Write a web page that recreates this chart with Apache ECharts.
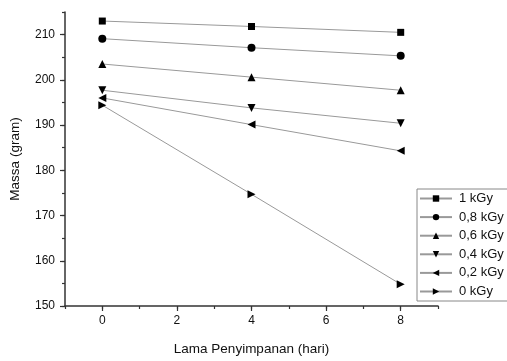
<!DOCTYPE html>
<html>
<head>
<meta charset="utf-8">
<script src="https://cdn.jsdelivr.net/npm/echarts@6/dist/echarts.min.js"></script>
<style>
html, body { margin: 0; padding: 0; background: #fff; overflow: hidden; }
#chart { width: 507px; height: 361px; }
</style>
</head>
<body>
<div id="chart"></div>
<script>
// lama penyimpanan (hari)
const days = [0, 4, 8];
const doses = ['1 kGy', '0,8 kGy', '0,6 kGy', '0,4 kGy', '0,2 kGy', '0 kGy'];
// massa (gram)
const mass1 = [213.0, 211.8, 210.5];
const mass08 = [209.1, 207.1, 205.3];
const mass06 = [203.5, 200.6, 197.7];
const mass04 = [197.7, 193.8, 190.4];
const mass02 = [196.0, 190.1, 184.3];
const mass0 = [194.4, 174.7, 154.8];
const xMajor = [0, 2, 4, 6, 8];
const yMajor = [150, 160, 170, 180, 190, 200, 210];

const allMass = [mass1, mass08, mass06, mass04, mass02, mass0];
const symbols = ['rect', 'circle', 'triangle', 'triangle', 'triangle', 'triangle'];
const rotations = [0, 0, 0, 180, 90, -90];

const chart = echarts.init(document.getElementById('chart'));
const font = 'Arial, "Liberation Sans", sans-serif';

const option = {
    animation: false,
    textStyle: { fontFamily: font },
    grid: { left: 61, right: 69, top: 12, bottom: 44 },
    legend: {
        orient: 'vertical',
        left: 417,
        top: 189,
        itemWidth: 32,
        itemHeight: 8,
        itemGap: 5.6,
        padding: [3, 50, 3, 2],
        borderColor: '#888',
        borderWidth: 1,
        textStyle: { fontSize: 13, color: '#111', fontFamily: font, lineHeight: 12, padding: [0, 0, 0, 2] },
        data: doses
    },
    xAxis: [
        {
            type: 'value',
            min: -1,
            max: 9,
            interval: 1,
            name: 'Lama Penyimpanan (hari)',
            nameLocation: 'middle',
            nameGap: 36,
            nameTextStyle: { fontSize: 13.5, color: '#111' },
            axisLine: { show: true, onZero: false, lineStyle: { color: '#333', width: 1.5 } },
            axisTick: { show: true, length: 3, lineStyle: { color: '#333', width: 1.2 } },
            axisLabel: {
                fontSize: 12, color: '#111', margin: 9,
                formatter: v => (v % 2 === 0 ? String(v) : '')
            },
            splitLine: { show: false }
        },
        {
            type: 'value',
            min: -1,
            max: 9,
            position: 'bottom',
            axisLine: { show: false, onZero: false },
            axisTick: { show: true, length: 5, customValues: xMajor, lineStyle: { color: '#333', width: 1.2 } },
            axisLabel: { show: false },
            splitLine: { show: false }
        }
    ],
    yAxis: [
        {
            type: 'value',
            min: 150,
            max: 215,
            interval: 5,
            name: 'Massa (gram)',
            nameLocation: 'middle',
            nameGap: 43,
            nameTextStyle: { fontSize: 13.5, color: '#111' },
            axisLine: { show: true, onZero: false, lineStyle: { color: '#333', width: 1.5 } },
            axisTick: { show: true, length: 3, lineStyle: { color: '#333', width: 1.2 } },
            axisLabel: {
                fontSize: 12, color: '#111', margin: 10,
                formatter: v => (v % 10 === 0 ? String(v) : '')
            },
            splitLine: { show: false }
        },
        {
            type: 'value',
            min: 150,
            max: 215,
            position: 'left',
            axisLine: { show: false, onZero: false },
            axisTick: { show: true, length: 5, customValues: yMajor, lineStyle: { color: '#333', width: 1.2 } },
            axisLabel: { show: false },
            splitLine: { show: false }
        }
    ],
    series: doses.map((name, i) => ({
        name: name,
        type: 'line',
        data: days.map((d, j) => [d, allMass[i][j]]),
        symbol: symbols[i],
        symbolRotate: rotations[i],
        symbolSize: i === 0 ? 7 : 8,
        lineStyle: { color: '#999', width: 1 },
        itemStyle: { color: '#000' },
        z: 3
    }))
};

chart.setOption(option);
</script>
</body>
</html>
